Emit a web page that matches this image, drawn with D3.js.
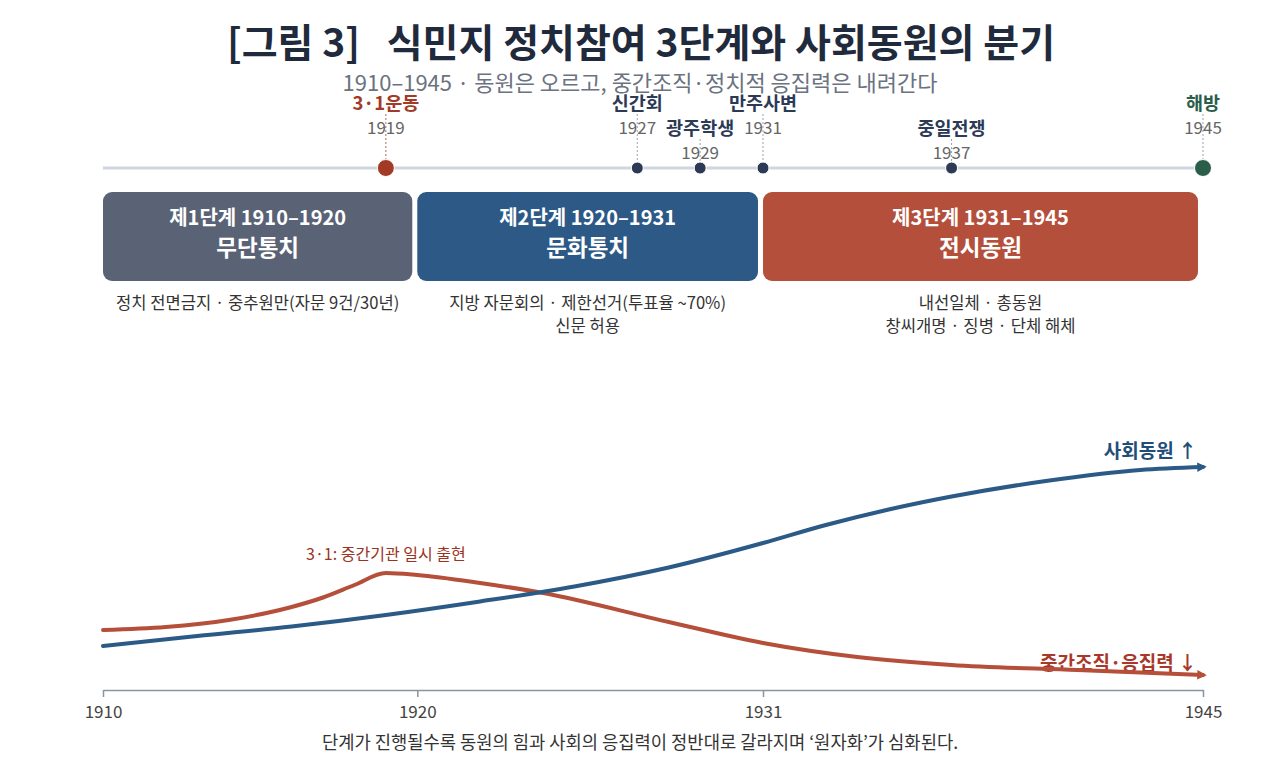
<!DOCTYPE html>
<html><head><meta charset="utf-8">
<script src="https://cdn.jsdelivr.net/npm/d3@7"></script>
<style>
body{margin:0;background:#fff;}
svg{display:block;font-family:"Noto Sans CJK KR","Noto Sans",sans-serif;}
</style></head>
<body><svg id="c" width="1280" height="768"></svg>
<script>
// ---- data ----
const titleText = "[그림 3]\u00a0\u00a0\u00a0식민지 정치참여 3단계와 사회동원의 분기";
const subtitleText = "1910–1945 · 동원은 오르고, 중간조직·정치적 응집력은 내려간다";
const captionText = "단계가 진행될수록 동원의 힘과 사회의 응집력이 정반대로 갈라지며 ‘원자화’가 심화된다.";

const eventNames = ["3·1운동", "신간회", "광주학생", "만주사변", "중일전쟁", "해방"];
const eventYears = [1919, 1927, 1929, 1931, 1937, 1945];
const eventLevels = [0, 0, 1, 0, 1, 0];
const eventKinds = ["red", "dark", "dark", "dark", "dark", "green"];

const phaseStart = [1910, 1920, 1931];
const phaseEnd = [1920, 1931, 1945];
const phaseTitles = ["제1단계 1910–1920", "제2단계 1920–1931", "제3단계 1931–1945"];
const phaseNames = ["무단통치", "문화통치", "전시동원"];
const phaseDescs = [
  ["정치 전면금지 · 중추원만(자문 9건/30년)"],
  ["지방 자문회의 · 제한선거(투표율 ~70%)", "신문 허용"],
  ["내선일체 · 총동원", "창씨개명 · 징병 · 단체 해체"]
];

const axisTicks = [1910, 1920, 1931, 1945];

const mobYears = [1910, 1913, 1916, 1919, 1922, 1925, 1928, 1931, 1933, 1935, 1937, 1940, 1943, 1945];
const mobValues = [17.6, 21.6, 25.4, 30, 35.4, 41.4, 49, 58.8, 66, 72.2, 77.4, 83.6, 88, 89.2];

const cohYears = [1910, 1912, 1914, 1916, 1917, 1918, 1919, 1920, 1922, 1924, 1928, 1931, 1934, 1937, 1941, 1945];
const cohValues = [24, 25.2, 28, 33.2, 37, 42, 46.8, 46, 42.8, 38.8, 27.2, 18.8, 13.2, 10, 8, 6];

const mobLabel = "사회동원 ↑";
const cohLabel = "중간조직·응집력 ↓";
const peakNote = "3·1: 중간기관 일시 출현";

// ---- styles ----
const C = {
  title: "#1f2a3c", sub: "#6b7280", dark: "#2c3a56", red: "#a23a26", green: "#2a5e4a",
  blue: "#2b5a87", redLine: "#b54f3a", gray: "#d0d6de", axis: "#8b94a1", text: "#333"
};
const phaseColors = ["#5a6275", "#2d5986", "#b34f3b"];
const FONT = '"Noto Sans CJK KR","Noto Sans",sans-serif';

const svg = d3.select("#c");
const x = d3.scaleLinear().domain([1910, 1945]).range([103, 1203]);
const y = d3.scaleLinear().domain([0, 100]).range([690, 440]);

// title
svg.append("text").attr("x", 641).attr("y", 57).attr("text-anchor", "middle")
  .attr("font-size", 39).attr("font-weight", 700).attr("fill", C.title).text(titleText);
svg.append("text").attr("x", 640).attr("y", 91).attr("text-anchor", "middle")
  .attr("font-size", 22).attr("fill", C.sub).text(subtitleText);

// timeline
const tlY = 168;
svg.append("line").attr("x1", x(1910)).attr("x2", x(1945)).attr("y1", tlY).attr("y2", tlY)
  .attr("stroke", C.gray).attr("stroke-width", 3);

const events = eventNames.map((n, i) => ({name: n, year: eventYears[i], level: eventLevels[i], kind: eventKinds[i]}));
const eg = svg.append("g");
events.forEach(e => {
  const ex = x(e.year);
  const nameY = e.level === 0 ? 110 : 135;
  const yearY = nameY + 24;
  const col = e.kind === "red" ? C.red : e.kind === "green" ? C.green : C.dark;
  eg.append("line").attr("x1", ex).attr("x2", ex).attr("y1", yearY - 20).attr("y2", tlY)
    .attr("stroke", e.kind === "red" ? "#b86a5c" : "#9aa2ad").attr("stroke-width", 1)
    .attr("stroke-dasharray", "2,2");
  eg.append("text").attr("x", ex).attr("y", yearY).attr("text-anchor", "middle")
    .attr("font-size", 17).attr("fill", "#666").text(e.year);
  eg.append("text").attr("x", ex).attr("y", nameY).attr("text-anchor", "middle")
    .attr("font-size", 18.5).attr("font-weight", 700).attr("fill", col)
    .attr("stroke", "#fff").attr("stroke-width", 2).attr("paint-order", "stroke").text(e.name);
  const big = e.kind !== "dark";
  eg.append("circle").attr("cx", ex).attr("cy", tlY).attr("r", big ? 8.5 : 6)
    .attr("fill", col).attr("stroke", "#fff").attr("stroke-width", 1);
});

// phase boxes
const pg = svg.append("g");
phaseStart.forEach((s, i) => {
  const x0 = x(s), x1 = x(phaseEnd[i]) - 5;
  pg.append("rect").attr("x", x0).attr("y", 192).attr("width", x1 - x0).attr("height", 89)
    .attr("rx", 9).attr("fill", phaseColors[i]);
  const cx = (x0 + x1) / 2;
  pg.append("text").attr("x", cx).attr("y", 225).attr("text-anchor", "middle")
    .attr("font-size", 20).attr("font-weight", 700).attr("fill", "#fff").text(phaseTitles[i]);
  pg.append("text").attr("x", cx).attr("y", 256).attr("text-anchor", "middle")
    .attr("font-size", 22.5).attr("font-weight", 700).attr("fill", "#fff").text(phaseNames[i]);
  phaseDescs[i].forEach((line, j) => {
    pg.append("text").attr("x", cx).attr("y", 309 + j * 23).attr("text-anchor", "middle")
      .attr("font-size", 16.6).attr("fill", C.text).text(line);
  });
});

// arrow markers
const defs = svg.append("defs");
[["arrBlue", C.blue], ["arrRed", C.redLine]].forEach(([id, col]) => {
  defs.append("marker").attr("id", id).attr("viewBox", "0 0 10 10").attr("refX", 6).attr("refY", 5)
    .attr("markerWidth", 3).attr("markerHeight", 2.4).attr("orient", "auto")
    .attr("markerUnits", "strokeWidth")
    .append("path").attr("d", "M0,0 L10,5 L0,10 z").attr("fill", col);
});

// axis
const axisY = 690;
const axis = d3.axisBottom(x).tickValues(axisTicks).tickFormat(d3.format("d")).tickSize(7).tickSizeOuter(0);
const ag = svg.append("g").attr("transform", `translate(0,${axisY})`).call(axis);
ag.select(".domain").attr("stroke", C.axis).attr("stroke-width", 1.5);
ag.selectAll(".tick line").attr("stroke", C.axis).attr("stroke-width", 1.5);
ag.selectAll(".tick text").attr("font-size", 17).attr("fill", "#444")
  .attr("font-family", FONT).attr("dy", "1.05em");

// lines
const line = d3.line().x(d => x(d[0])).y(d => y(d[1])).curve(d3.curveMonotoneX);
const mob = mobYears.map((yr, i) => [yr, mobValues[i]]);
const coh = cohYears.map((yr, i) => [yr, cohValues[i]]);

// labels (drawn below lines like the reference)
svg.append("text").attr("x", 1197).attr("y", 458).attr("text-anchor", "end")
  .attr("font-size", 19).attr("font-weight", 700).attr("fill", "#1f4e79").text(mobLabel);
svg.append("text").attr("x", 1197).attr("y", 670).attr("text-anchor", "end")
  .attr("font-size", 19).attr("font-weight", 700).attr("fill", "#a8382a").text(cohLabel);
svg.append("text").attr("x", x(1919)).attr("y", 560).attr("text-anchor", "middle")
  .attr("font-size", 16).attr("fill", "#9b3322").text(peakNote);

svg.append("path").datum(coh).attr("d", line).attr("fill", "none")
  .attr("stroke", C.redLine).attr("stroke-width", 4).attr("stroke-linecap", "round")
  .attr("marker-end", "url(#arrRed)");
svg.append("path").datum(mob).attr("d", line).attr("fill", "none")
  .attr("stroke", C.blue).attr("stroke-width", 4).attr("stroke-linecap", "round")
  .attr("marker-end", "url(#arrBlue)");

// caption
svg.append("text").attr("x", 640).attr("y", 749).attr("text-anchor", "middle")
  .attr("font-size", 17.7).attr("fill", C.text).text(captionText);
</script></body></html>
